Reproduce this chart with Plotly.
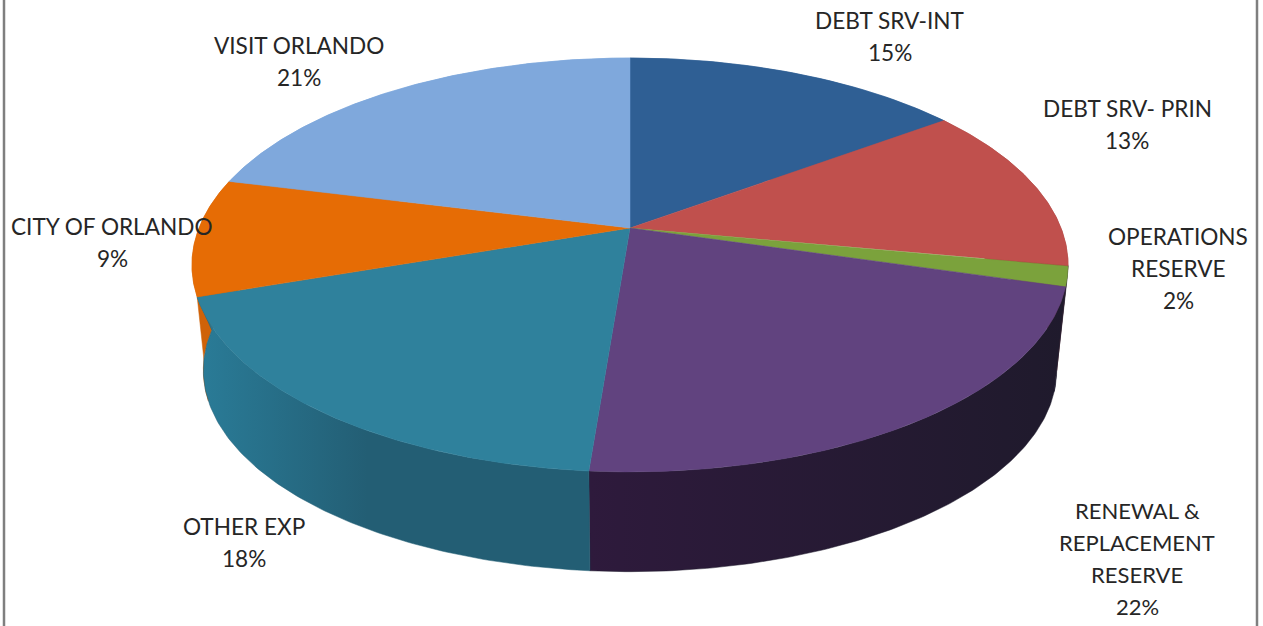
import math
import numpy as np
import plotly.graph_objects as go

# Budget shares in percent, clockwise from twelve o'clock
categories = ["DEBT SRV-INT", "DEBT SRV- PRIN", "OPERATIONS RESERVE",
              "RENEWAL & REPLACEMENT RESERVE", "OTHER EXP", "CITY OF ORLANDO", "VISIT ORLANDO"]
shares = [14.9, 13.0, 1.6, 21.75, 18.5, 9.15, 21.1]

top_colors = ["#2f5f94", "#c0504d", "#7ba23c", "#61437f", "#2f819c", "#e66c05", "#7fa8dc"]
side_colors = [
    ["#2f5f94", "#2f5f94"], ["#a03c3a", "#a03c3a"], ["#1f1a2e", "#1f1a2e"],
    ["#2e1a3c", "#1f1a2c"], ["#2a7c98", "#235e74"], ["#cf6208", "#cf6208"], ["#7fa8dc", "#7fa8dc"],
]

# Text lines per slice, where each block is centred (px) and its font size
label_lines = [["DEBT SRV-INT"], ["DEBT SRV- PRIN"], ["OPERATIONS", "RESERVE"],
               ["RENEWAL &", "REPLACEMENT", "RESERVE"], ["OTHER EXP"], ["CITY OF ORLANDO"], ["VISIT ORLANDO"]]
label_x = [890, 1127, 1178, 1137, 244, 112, 299]
label_y = [20, 108, 236, 510, 526, 226, 45]
label_size = [22.6, 22.6, 22.6, 22, 22.6, 22.6, 22.6]
line_step = 32

# Perspective disc: screen position of a point on the rim or inside the disc
CX, CY = 630, 228
RADIUS = 431
TILT = 0.1787
Y_SLOPE = -159.6
DROP, SHRINK = 112, 0.974
# The front-left wall reaches a little further along the lower rim
WALL_OVERLAP = {4: 0.35}


def project(theta):
    u, v = np.sin(theta), np.cos(theta)
    w = 1 + TILT * v
    return CX + RADIUS * u / w, (Y_SLOPE * v + CY) / w


def project_low(theta):
    x, y = project(theta)
    return CX + SHRINK * (x - CX), SHRINK * y + DROP


edges = np.cumsum([0] + shares) / sum(shares) * 2 * math.pi
fig = go.Figure()

# Side walls first, so the top face covers the hidden back part
for i in [0, 1, 2, 3, 6, 5, 4]:
    th = np.linspace(edges[i], edges[i + 1], 120)
    th_low = np.linspace(edges[i], edges[i + 1] + WALL_OVERLAP.get(i, 0), 120)
    xt, yt = project(th)
    xb, yb = project_low(th_low)
    xs = np.r_[xt, xb[::-1], xt[0]]
    ys = np.r_[yt, yb[::-1], yt[0]]
    c0, c1 = side_colors[i]
    gradient = dict(type="horizontal", colorscale=[[0, c0], [1, c1]])
    if i == 4:
        gradient.update(start=float(xs.min()), stop=float(xs.min()) + 170)
    fig.add_trace(go.Scatter(
        x=xs, y=ys, mode="lines", fill="toself", hoverinfo="skip", showlegend=False,
        line=dict(color=c1, width=0.5), fillgradient=gradient,
    ))

# Top face wedges
for i in range(len(shares)):
    th = np.linspace(edges[i], edges[i + 1], 120)
    xt, yt = project(th)
    fig.add_trace(go.Scatter(
        x=np.r_[CX, xt, CX], y=np.r_[CY, yt, CY], mode="lines", fill="toself",
        fillcolor=top_colors[i], line=dict(color=top_colors[i], width=0.5),
        hoverinfo="skip", showlegend=False, name=categories[i],
    ))

# Labels: one annotation per line for the wide line pitch
annotations = []
for lines, lx, ly, size, share in zip(label_lines, label_x, label_y, label_size, shares):
    for k, text in enumerate(lines + [f"{share:.0f}%"]):
        annotations.append(dict(x=lx, y=ly + k * line_step, text=text, showarrow=False,
                                xanchor="center", yanchor="middle",
                                font=dict(family="Lato", size=size, color="#262626")))

fig.update_layout(
    width=1263, height=626, margin=dict(l=0, r=0, t=0, b=0),
    paper_bgcolor="white", plot_bgcolor="white", showlegend=False,
    xaxis=dict(range=[0, 1263], visible=False, fixedrange=True),
    yaxis=dict(range=[626, 0], visible=False, fixedrange=True),
    annotations=annotations,
    shapes=[dict(type="line", x0=x, x1=x, y0=0, y1=626, line=dict(color="#7f7f7f", width=2.5))
            for x in (4, 1257)],
)
fig.write_html("out.html", config={"displayModeBar": False})
